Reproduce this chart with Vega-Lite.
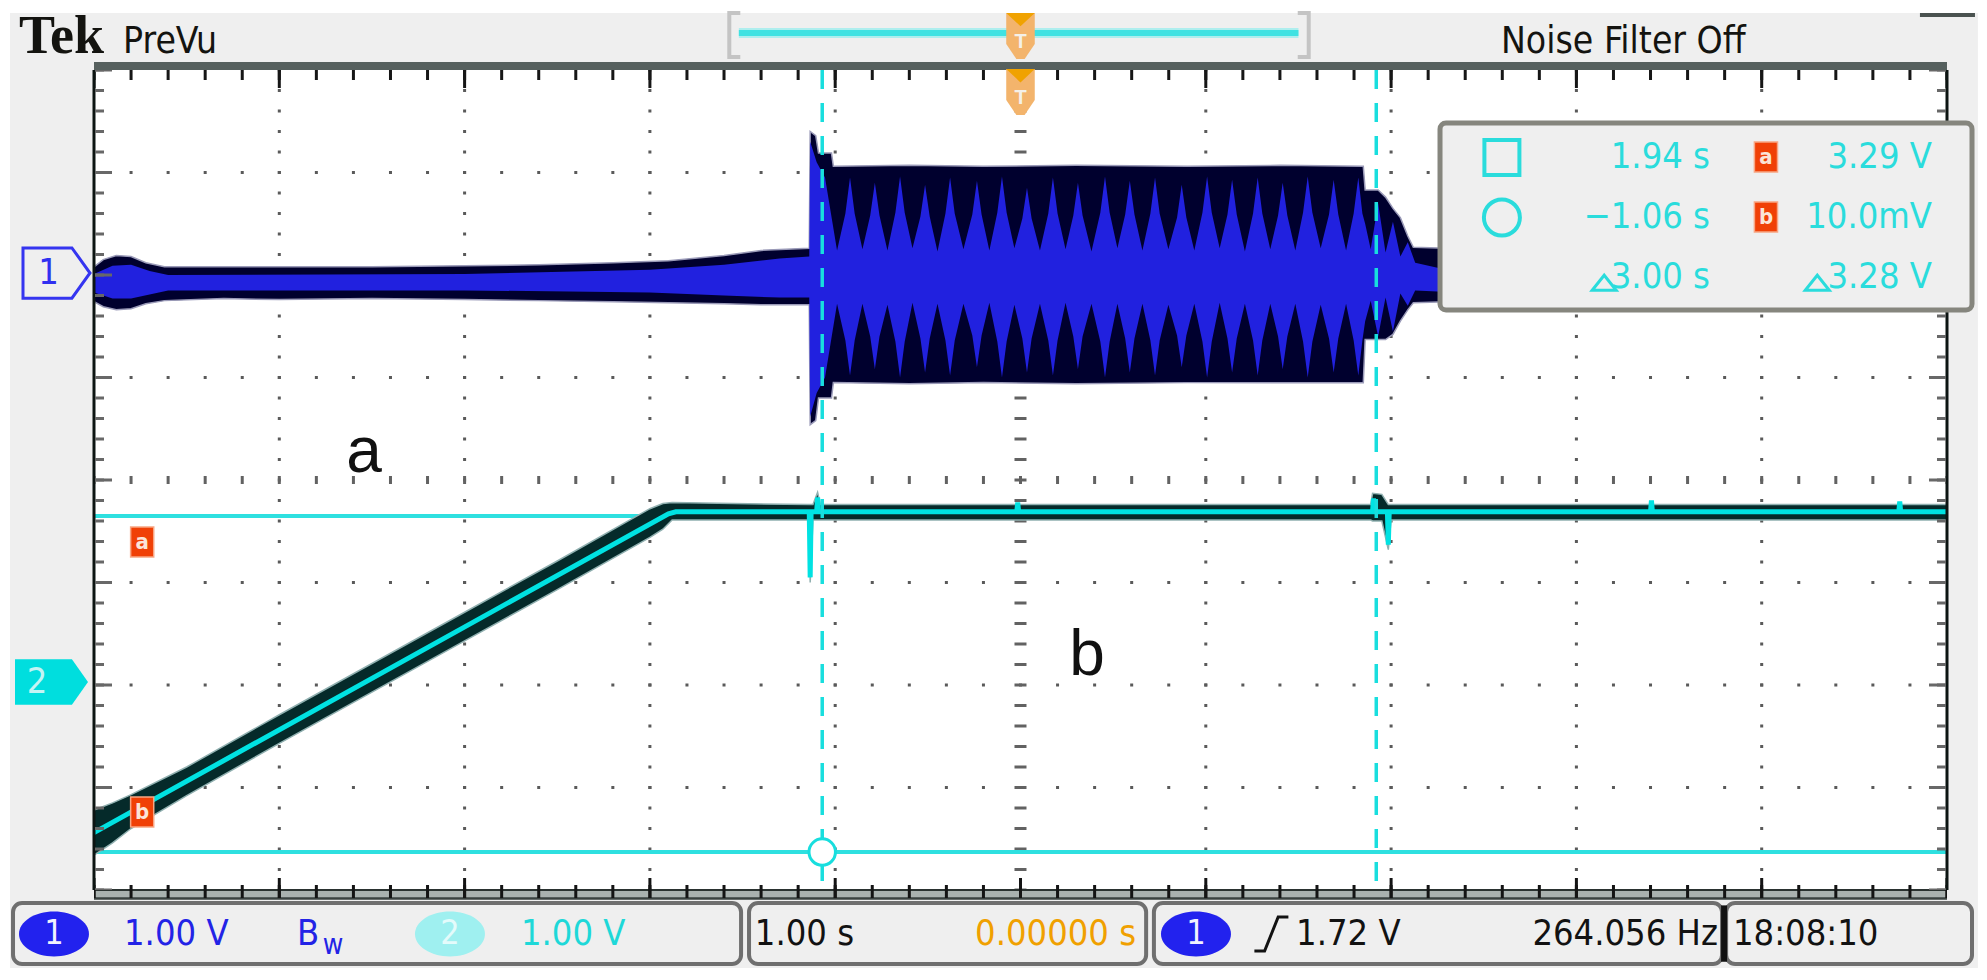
{
  "$schema": "https://vega.github.io/schema/vega-lite/v6.json",
  "width": 1987,
  "height": 980,
  "autosize": {"type": "fit", "contains": "padding"},
  "padding": 0,
  "background": "#ffffff",
  "config": {"view": {"stroke": null}},
  "encoding": {
    "x": {"field": "t", "type": "quantitative", "scale": {"domain": [-5.5073, 5.2159], "nice": false, "zero": false}, "axis": null},
    "y": {"field": "v", "type": "quantitative", "scale": {"domain": [-4.878, 4.6829], "nice": false, "zero": false}, "axis": null}
  },
  "layer": [
    {"data": {"values": [{"t": -5.453, "t2": 5.167, "v": 4.556, "v2": -4.761}]},
     "mark": {"type": "rect", "color": "#efefef"},
     "encoding": {"x2": {"field": "t2"}, "y2": {"field": "v2"}}},
    {"data": {"values": [{"t": -5, "t2": 5, "v": 4, "v2": -4}]},
     "mark": {"type": "rect", "color": "#ffffff"},
     "encoding": {"x2": {"field": "t2"}, "y2": {"field": "v2"}}},
    {"data": {"values": [{"t": -4, "v": 4, "v2": -4}, {"t": -3, "v": 4, "v2": -4}, {"t": -2, "v": 4, "v2": -4}, {"t": -1, "v": 4, "v2": -4}, {"t": 1, "v": 4, "v2": -4}, {"t": 2, "v": 4, "v2": -4}, {"t": 3, "v": 4, "v2": -4}, {"t": 4, "v": 4, "v2": -4}]},
     "mark": {"type": "rule", "color": "#5a5a5a", "strokeWidth": 3, "strokeDash": [3, 17.5], "strokeDashOffset": 1.5},
     "encoding": {"y2": {"field": "v2"}}},
    {"data": {"values": [{"t": -5, "t2": 5, "v": 3}, {"t": -5, "t2": 5, "v": 2}, {"t": -5, "t2": 5, "v": 1}, {"t": -5, "t2": 5, "v": -1}, {"t": -5, "t2": 5, "v": -2}, {"t": -5, "t2": 5, "v": -3}]},
     "mark": {"type": "rule", "color": "#5a5a5a", "strokeWidth": 3, "strokeDash": [3, 34.06], "strokeDashOffset": 1.5},
     "encoding": {"x2": {"field": "t2"}}},
    {"data": {"values": [{"t": 0, "v": 4, "v2": -4}]},
     "mark": {"type": "rule", "color": "#626262", "strokeWidth": 12, "strokeDash": [3, 17.5], "strokeDashOffset": 1.5},
     "encoding": {"y2": {"field": "v2"}}},
    {"data": {"values": [{"t": -5, "t2": 5, "v": 0}]},
     "mark": {"type": "rule", "color": "#626262", "strokeWidth": 8, "strokeDash": [3, 34.06], "strokeDashOffset": 1.5},
     "encoding": {"x2": {"field": "t2"}}},
    {"data": {"values": [{"t": -5, "t2": 5, "v": -0.35}, {"t": -5, "t2": 5, "v": -3.63}]},
     "mark": {"type": "rule", "color": "#2ee0e0", "strokeWidth": 4},
     "encoding": {"x2": {"field": "t2"}}},
    {"data": {"values": [
      {"t": -5.0, "v": -3.66, "v2": -3.22}, {"t": -4.9, "v": -3.54, "v2": -3.15}, {"t": -4.8, "v": -3.40, "v2": -3.07},
      {"t": -4.5, "v": -3.08, "v2": -2.80}, {"t": -4.0, "v": -2.57, "v2": -2.29}, {"t": -3.5, "v": -2.07, "v2": -1.79},
      {"t": -3.0, "v": -1.57, "v2": -1.29}, {"t": -2.5, "v": -1.07, "v2": -0.79}, {"t": -2.0, "v": -0.56, "v2": -0.28},
      {"t": -1.93, "v": -0.48, "v2": -0.23}, {"t": -1.88, "v": -0.39, "v2": -0.22}, {"t": -1.14, "v": -0.39, "v2": -0.24},
      {"t": -1.135, "v": -1.0, "v2": -0.24}, {"t": -1.12, "v": -0.39, "v2": -0.24}, {"t": -1.095, "v": -0.39, "v2": -0.12},
      {"t": -1.08, "v": -0.39, "v2": -0.24}, {"t": 1.89, "v": -0.39, "v2": -0.24}, {"t": 1.90, "v": -0.40, "v2": -0.13},
      {"t": 1.95, "v": -0.40, "v2": -0.14}, {"t": 1.985, "v": -0.68, "v2": -0.24}, {"t": 2.0, "v": -0.39, "v2": -0.24},
      {"t": 5.0, "v": -0.39, "v2": -0.24}]},
     "mark": {"type": "area", "color": "#052a2a", "stroke": "#90b0b0", "strokeWidth": 1.5},
     "encoding": {"y2": {"field": "v2"}}},
    {"data": {"values": [
      {"t": -5.0, "v": -3.44}, {"t": -1.90, "v": -0.33}, {"t": -1.86, "v": -0.31}, {"t": -1.14, "v": -0.31},
      {"t": -1.135, "v": -0.95}, {"t": -1.13, "v": -0.31}, {"t": -1.10, "v": -0.31}, {"t": -1.095, "v": -0.17},
      {"t": -1.09, "v": -0.31}, {"t": -0.02, "v": -0.31}, {"t": -0.015, "v": -0.22}, {"t": -0.01, "v": -0.31},
      {"t": 1.90, "v": -0.31}, {"t": 1.905, "v": -0.18}, {"t": 1.91, "v": -0.31}, {"t": 1.98, "v": -0.31},
      {"t": 1.985, "v": -0.63}, {"t": 1.99, "v": -0.31}, {"t": 3.40, "v": -0.31}, {"t": 3.405, "v": -0.20},
      {"t": 3.41, "v": -0.31}, {"t": 4.74, "v": -0.31}, {"t": 4.745, "v": -0.21}, {"t": 4.75, "v": -0.31},
      {"t": 5.0, "v": -0.31}]},
     "mark": {"type": "line", "color": "#00e2e2", "strokeWidth": 5}},
    {"data": {"values": [
      {"t": -5.0, "v": 1.74, "v2": 2.08}, {"t": -4.95, "v": 1.69, "v2": 2.15}, {"t": -4.88, "v": 1.66, "v2": 2.19},
      {"t": -4.80, "v": 1.67, "v2": 2.18}, {"t": -4.72, "v": 1.72, "v2": 2.12}, {"t": -4.62, "v": 1.75, "v2": 2.08},
      {"t": -4.3, "v": 1.77, "v2": 2.08}, {"t": -4.0, "v": 1.76, "v2": 2.08}, {"t": -3.5, "v": 1.77, "v2": 2.08},
      {"t": -3.0, "v": 1.76, "v2": 2.09}, {"t": -2.6, "v": 1.75, "v2": 2.10}, {"t": -2.2, "v": 1.74, "v2": 2.12},
      {"t": -1.9, "v": 1.73, "v2": 2.14}, {"t": -1.6, "v": 1.72, "v2": 2.19}, {"t": -1.4, "v": 1.71, "v2": 2.24},
      {"t": -1.14, "v": 1.71, "v2": 2.26}, {"t": -1.135, "v": 0.54, "v2": 3.40}, {"t": -1.105, "v": 0.58, "v2": 3.36},
      {"t": -1.09, "v": 0.80, "v2": 3.19}, {"t": -1.02, "v": 0.80, "v2": 3.19}, {"t": -1.01, "v": 0.95, "v2": 3.06},
      {"t": -0.6, "v": 0.94, "v2": 3.07}, {"t": -0.2, "v": 0.95, "v2": 3.06}, {"t": 0.3, "v": 0.94, "v2": 3.07},
      {"t": 0.9, "v": 0.95, "v2": 3.06}, {"t": 1.4, "v": 0.95, "v2": 3.07}, {"t": 1.85, "v": 0.95, "v2": 3.06},
      {"t": 1.86, "v": 1.37, "v2": 2.83}, {"t": 1.93, "v": 1.37, "v2": 2.83}, {"t": 1.97, "v": 1.37, "v2": 2.76},
      {"t": 2.01, "v": 1.42, "v2": 2.65}, {"t": 2.05, "v": 1.55, "v2": 2.56}, {"t": 2.09, "v": 1.66, "v2": 2.38},
      {"t": 2.12, "v": 1.73, "v2": 2.27}, {"t": 2.3, "v": 1.74, "v2": 2.26}, {"t": 2.8, "v": 1.76, "v2": 2.12},
      {"t": 5.0, "v": 1.76, "v2": 2.12}]},
     "mark": {"type": "area", "color": "#00002e", "stroke": "#9a9ab8", "strokeWidth": 1.5},
     "encoding": {"y2": {"field": "v2"}}},
    {"data": {"values": [
      {"t": -5.0, "v": 1.83, "v2": 2.01}, {"t": -4.9, "v": 1.77, "v2": 2.09}, {"t": -4.8, "v": 1.77, "v2": 2.10},
      {"t": -4.7, "v": 1.81, "v2": 2.04}, {"t": -4.6, "v": 1.85, "v2": 2.00}, {"t": -3.0, "v": 1.85, "v2": 2.01},
      {"t": -2.0, "v": 1.83, "v2": 2.05}, {"t": -1.6, "v": 1.80, "v2": 2.10}, {"t": -1.3, "v": 1.78, "v2": 2.16},
      {"t": -1.14, "v": 1.78, "v2": 2.18}, {"t": -1.135, "v": 0.62, "v2": 3.30}, {"t": -1.10, "v": 0.85, "v2": 3.10},
      {"t": -1.055, "v": 1.00, "v2": 2.95}, {"t": -0.99, "v": 1.72, "v2": 2.24},
      {"t": -0.945, "v": 1.36, "v2": 2.60}, {"t": -0.92, "v": 1.02, "v2": 2.95}, {"t": -0.895, "v": 1.36, "v2": 2.60},
      {"t": -0.853, "v": 1.72, "v2": 2.25},
      {"t": -0.811, "v": 1.40, "v2": 2.58}, {"t": -0.786, "v": 1.08, "v2": 2.90}, {"t": -0.761, "v": 1.40, "v2": 2.58},
      {"t": -0.718, "v": 1.71, "v2": 2.24},
      {"t": -0.675, "v": 1.35, "v2": 2.61}, {"t": -0.65, "v": 1.00, "v2": 2.96}, {"t": -0.625, "v": 1.35, "v2": 2.61},
      {"t": -0.583, "v": 1.73, "v2": 2.26},
      {"t": -0.54, "v": 1.38, "v2": 2.57}, {"t": -0.515, "v": 1.05, "v2": 2.88}, {"t": -0.49, "v": 1.38, "v2": 2.57},
      {"t": -0.448, "v": 1.72, "v2": 2.23},
      {"t": -0.405, "v": 1.36, "v2": 2.60}, {"t": -0.38, "v": 1.02, "v2": 2.95}, {"t": -0.355, "v": 1.36, "v2": 2.60},
      {"t": -0.308, "v": 1.72, "v2": 2.25},
      {"t": -0.26, "v": 1.41, "v2": 2.59}, {"t": -0.235, "v": 1.10, "v2": 2.92}, {"t": -0.21, "v": 1.41, "v2": 2.59},
      {"t": -0.168, "v": 1.73, "v2": 2.24},
      {"t": -0.125, "v": 1.35, "v2": 2.61}, {"t": -0.10, "v": 1.00, "v2": 2.96}, {"t": -0.075, "v": 1.35, "v2": 2.61},
      {"t": -0.033, "v": 1.71, "v2": 2.26},
      {"t": 0.01, "v": 1.38, "v2": 2.55}, {"t": 0.035, "v": 1.05, "v2": 2.85}, {"t": 0.06, "v": 1.38, "v2": 2.55},
      {"t": 0.105, "v": 1.72, "v2": 2.24},
      {"t": 0.15, "v": 1.36, "v2": 2.60}, {"t": 0.175, "v": 1.02, "v2": 2.95}, {"t": 0.20, "v": 1.36, "v2": 2.60},
      {"t": 0.243, "v": 1.73, "v2": 2.25},
      {"t": 0.285, "v": 1.40, "v2": 2.58}, {"t": 0.31, "v": 1.08, "v2": 2.90}, {"t": 0.335, "v": 1.40, "v2": 2.58},
      {"t": 0.383, "v": 1.72, "v2": 2.23},
      {"t": 0.431, "v": 1.35, "v2": 2.61}, {"t": 0.456, "v": 1.00, "v2": 2.96}, {"t": 0.481, "v": 1.35, "v2": 2.61},
      {"t": 0.523, "v": 1.72, "v2": 2.26},
      {"t": 0.565, "v": 1.38, "v2": 2.59}, {"t": 0.59, "v": 1.05, "v2": 2.92}, {"t": 0.615, "v": 1.38, "v2": 2.59},
      {"t": 0.658, "v": 1.72, "v2": 2.24},
      {"t": 0.701, "v": 1.36, "v2": 2.60}, {"t": 0.726, "v": 1.02, "v2": 2.95}, {"t": 0.751, "v": 1.36, "v2": 2.60},
      {"t": 0.798, "v": 1.71, "v2": 2.25},
      {"t": 0.845, "v": 1.41, "v2": 2.56}, {"t": 0.87, "v": 1.10, "v2": 2.88}, {"t": 0.895, "v": 1.41, "v2": 2.56},
      {"t": 0.938, "v": 1.72, "v2": 2.24},
      {"t": 0.982, "v": 1.35, "v2": 2.61}, {"t": 1.007, "v": 1.00, "v2": 2.96}, {"t": 1.032, "v": 1.35, "v2": 2.61},
      {"t": 1.075, "v": 1.73, "v2": 2.26},
      {"t": 1.117, "v": 1.38, "v2": 2.59}, {"t": 1.142, "v": 1.05, "v2": 2.93}, {"t": 1.167, "v": 1.38, "v2": 2.59},
      {"t": 1.211, "v": 1.72, "v2": 2.23},
      {"t": 1.255, "v": 1.36, "v2": 2.60}, {"t": 1.28, "v": 1.02, "v2": 2.95}, {"t": 1.305, "v": 1.36, "v2": 2.60},
      {"t": 1.348, "v": 1.72, "v2": 2.25},
      {"t": 1.39, "v": 1.40, "v2": 2.58}, {"t": 1.415, "v": 1.08, "v2": 2.90}, {"t": 1.44, "v": 1.40, "v2": 2.58},
      {"t": 1.483, "v": 1.72, "v2": 2.24},
      {"t": 1.525, "v": 1.35, "v2": 2.61}, {"t": 1.55, "v": 1.00, "v2": 2.96}, {"t": 1.575, "v": 1.35, "v2": 2.61},
      {"t": 1.62, "v": 1.71, "v2": 2.26},
      {"t": 1.665, "v": 1.38, "v2": 2.59}, {"t": 1.69, "v": 1.05, "v2": 2.93}, {"t": 1.715, "v": 1.38, "v2": 2.59},
      {"t": 1.757, "v": 1.72, "v2": 2.24},
      {"t": 1.798, "v": 1.36, "v2": 2.60}, {"t": 1.823, "v": 1.02, "v2": 2.95}, {"t": 1.845, "v": 1.36, "v2": 2.60},
      {"t": 1.86, "v": 1.55, "v2": 2.50}, {"t": 1.89, "v": 1.75, "v2": 2.25}, {"t": 1.93, "v": 1.40, "v2": 2.70},
      {"t": 1.97, "v": 1.78, "v2": 2.22}, {"t": 2.01, "v": 1.45, "v2": 2.52}, {"t": 2.05, "v": 1.82, "v2": 2.18},
      {"t": 2.09, "v": 1.70, "v2": 2.32}, {"t": 2.13, "v": 1.85, "v2": 2.12}, {"t": 2.25, "v": 1.84, "v2": 2.07},
      {"t": 5.0, "v": 1.85, "v2": 2.02}]},
     "mark": {"type": "area", "color": "#2121df"},
     "encoding": {"y2": {"field": "v2"}}},
    {"data": {"values": [{"t": -1.07, "v": 4, "v2": -4}, {"t": 1.92, "v": 4, "v2": -4}]},
     "mark": {"type": "rule", "color": "#18dede", "strokeWidth": 3.5, "strokeDash": [19, 14]},
     "encoding": {"y2": {"field": "v2"}}},
    {"data": {"values": [{"t": -1.07, "v": -3.63}]},
     "mark": {"type": "point", "shape": "circle", "size": 700, "filled": true, "fill": "#ffffff", "stroke": "#18dede", "strokeWidth": 3, "opacity": 1}},
    {"data": {"values": [{"t": -5, "t2": 5, "v": 4}]},
     "mark": {"type": "rule", "color": "#56605e", "strokeWidth": 8, "yOffset": -4},
     "encoding": {"x2": {"field": "t2"}}},
    {"data": {"values": [{"t": -5, "t2": 5, "v": 4}]},
     "mark": {"type": "rule", "color": "#161616", "strokeWidth": 10, "yOffset": 5, "strokeDash": [3, 34.06], "strokeDashOffset": 1.5},
     "encoding": {"x2": {"field": "t2"}}},
    {"data": {"values": [{"t": -5, "t2": 5, "v": 4}]},
     "mark": {"type": "rule", "color": "#161616", "strokeWidth": 18, "yOffset": 9, "strokeDash": [3, 182.3], "strokeDashOffset": 1.5},
     "encoding": {"x2": {"field": "t2"}}},
    {"data": {"values": [{"t": -5, "t2": 5, "v": -4}]},
     "mark": {"type": "rule", "color": "#a9b1af", "strokeWidth": 8, "yOffset": 4},
     "encoding": {"x2": {"field": "t2"}}},
    {"data": {"values": [{"t": -5, "t2": 5, "v": -4}]},
     "mark": {"type": "rule", "color": "#3a4240", "strokeWidth": 2.5, "yOffset": 8.5},
     "encoding": {"x2": {"field": "t2"}}},
    {"data": {"values": [{"t": -5, "t2": 5, "v": -4}]},
     "mark": {"type": "rule", "color": "#2a3230", "strokeWidth": 2},
     "encoding": {"x2": {"field": "t2"}}},
    {"data": {"values": [{"t": -5, "t2": 5, "v": -4}]},
     "mark": {"type": "rule", "color": "#141414", "strokeWidth": 13, "yOffset": 1.5, "strokeDash": [3, 34.06], "strokeDashOffset": 1.5},
     "encoding": {"x2": {"field": "t2"}}},
    {"data": {"values": [{"t": -5, "t2": 5, "v": -4}]},
     "mark": {"type": "rule", "color": "#141414", "strokeWidth": 20, "yOffset": -2, "strokeDash": [3, 182.3], "strokeDashOffset": 1.5},
     "encoding": {"x2": {"field": "t2"}}},
    {"data": {"values": [{"t": -5, "v": 4, "v2": -4}, {"t": 5, "v": 4, "v2": -4}]},
     "mark": {"type": "rule", "color": "#0c1412", "strokeWidth": 3},
     "encoding": {"y2": {"field": "v2"}}},
    {"data": {"values": [{"t": -5, "v": 4, "v2": -4}]},
     "mark": {"type": "rule", "color": "#686868", "strokeWidth": 9, "xOffset": 5.5, "strokeDash": [3, 17.5], "strokeDashOffset": 1.5},
     "encoding": {"y2": {"field": "v2"}}},
    {"data": {"values": [{"t": -5, "v": 4, "v2": -4}]},
     "mark": {"type": "rule", "color": "#686868", "strokeWidth": 17, "xOffset": 9.5, "strokeDash": [3, 99.5], "strokeDashOffset": 1.5},
     "encoding": {"y2": {"field": "v2"}}},
    {"data": {"values": [{"t": 5, "v": 4, "v2": -4}]},
     "mark": {"type": "rule", "color": "#686868", "strokeWidth": 9, "xOffset": -5.5, "strokeDash": [3, 17.5], "strokeDashOffset": 1.5},
     "encoding": {"y2": {"field": "v2"}}},
    {"data": {"values": [{"t": 5, "v": 4, "v2": -4}]},
     "mark": {"type": "rule", "color": "#686868", "strokeWidth": 17, "xOffset": -9.5, "strokeDash": [3, 99.5], "strokeDashOffset": 1.5},
     "encoding": {"y2": {"field": "v2"}}},
    {"data": {"values": [{"t": -3.543, "v": 0.078, "s": "a"}, {"t": 0.359, "v": -1.902, "s": "b"}]},
     "mark": {"type": "text", "font": "Liberation Sans, Arial, sans-serif", "fontSize": 64, "color": "#111111", "align": "center", "baseline": "alphabetic"},
     "encoding": {"text": {"field": "s"}}},
    {"data": {"values": [{"t": 2.264, "t2": 5.135, "v": 3.483, "v2": 1.659}]},
     "mark": {"type": "rect", "fill": "#efefef", "stroke": "#86867e", "strokeWidth": 5, "cornerRadius": 6},
     "encoding": {"x2": {"field": "t2"}, "y2": {"field": "v2"}}},
    {"data": {"values": [{"t": 2.598, "v": 3.146}]},
     "mark": {"type": "point", "shape": "square", "size": 1225, "filled": false, "stroke": "#2adcdc", "strokeWidth": 4, "opacity": 1}},
    {"data": {"values": [{"t": 2.598, "v": 2.561}]},
     "mark": {"type": "point", "shape": "circle", "size": 1296, "filled": false, "stroke": "#2adcdc", "strokeWidth": 4, "opacity": 1}},
    {"data": {"values": [{"t": 3.15, "v": 1.922}, {"t": 4.30, "v": 1.922}]},
     "mark": {"type": "point", "shape": "M-1,0.6L0,-0.65L1,0.6Z", "size": 576, "filled": false, "stroke": "#2adcdc", "strokeWidth": 3, "opacity": 1}},
    {"data": {"values": [{"t": 3.721, "v": 3.151, "s": "1.94 s"}, {"t": 3.721, "v": 2.566, "s": "−1.06 s"}, {"t": 3.721, "v": 1.98, "s": "3.00 s"}, {"t": 4.919, "v": 3.151, "s": "3.29 V"}, {"t": 4.919, "v": 2.566, "s": "10.0mV"}, {"t": 4.919, "v": 1.98, "s": "3.28 V"}]},
     "mark": {"type": "text", "font": "Liberation Sans Narrow, DejaVu Sans Condensed, Arial Narrow, sans-serif", "fontSize": 36, "color": "#2adcdc", "align": "right", "baseline": "middle"},
     "encoding": {"text": {"field": "s"}}},
    {"data": {"values": [{"t": -4.74, "v": -0.605, "s": "a"}, {"t": -4.74, "v": -3.239, "s": "b"}, {"t": 4.023, "v": 3.151, "s": "a"}, {"t": 4.023, "v": 2.566, "s": "b"}]},
     "mark": {"type": "point", "shape": "M-0.77,-1L0.77,-1L0.77,1L-0.77,1Z", "size": 900, "filled": true, "fill": "#f04006", "stroke": "#f8a684", "strokeWidth": 1.5, "opacity": 1}},
    {"data": {"values": [{"t": -4.74, "v": -0.605, "s": "a"}, {"t": -4.74, "v": -3.239, "s": "b"}, {"t": 4.023, "v": 3.151, "s": "a"}, {"t": 4.023, "v": 2.566, "s": "b"}]},
     "mark": {"type": "text", "font": "Liberation Sans Narrow, DejaVu Sans Condensed, sans-serif", "fontSize": 22, "fontWeight": "bold", "color": "#fbe4d8", "align": "center", "baseline": "middle"},
     "encoding": {"text": {"field": "s"}}},
    {"data": {"values": [{"t": -5.2024, "v": 2.0195}]},
     "mark": {"type": "point", "shape": "M-1,-0.75L0.46,-0.75L1,0L0.46,0.75L-1,0.75Z", "size": 4489, "filled": true, "fill": "#efefef", "stroke": "#3535f0", "strokeWidth": 3, "opacity": 1}},
    {"data": {"values": [{"t": -5.245, "v": 2.0195, "s": "1"}]},
     "mark": {"type": "text", "font": "Liberation Sans Narrow, DejaVu Sans Condensed, sans-serif", "fontSize": 36, "color": "#3030f0", "align": "center", "baseline": "middle"},
     "encoding": {"text": {"field": "s"}}},
    {"data": {"values": [{"t": -5.2294, "v": -1.9707}]},
     "mark": {"type": "point", "shape": "M-1,-0.62L0.56,-0.62L1,0L0.56,0.62L-1,0.62Z", "size": 5329, "filled": true, "fill": "#00dede", "opacity": 1}},
    {"data": {"values": [{"t": -5.308, "v": -1.9707, "s": "2"}]},
     "mark": {"type": "text", "font": "Liberation Sans Narrow, DejaVu Sans Condensed, sans-serif", "fontSize": 36, "color": "#c4f4f4", "align": "center", "baseline": "middle"},
     "encoding": {"text": {"field": "s"}}},
    {"data": {"values": [{"t": -5.405, "v": 4.166, "s": "Tek"}]},
     "mark": {"type": "text", "font": "Liberation Serif, serif", "fontWeight": "bold", "fontSize": 54, "color": "#141410", "align": "left", "baseline": "alphabetic"},
     "encoding": {"text": {"field": "s"}}},
    {"data": {"values": [{"t": -4.843, "v": 4.166, "s": "PreVu"}, {"t": 2.593, "v": 4.166, "s": "Noise Filter Off"}]},
     "mark": {"type": "text", "font": "Liberation Sans Narrow, DejaVu Sans Condensed, sans-serif", "fontSize": 37, "color": "#141410", "align": "left", "baseline": "alphabetic"},
     "encoding": {"text": {"field": "s"}}},
    {"data": {"values": [{"t": -1.524, "v": 4.341}]},
     "mark": {"type": "point", "shape": "M0.1,-1L-0.4,-1L-0.4,1L0.1,1", "size": 1936, "filled": false, "stroke": "#c4c4c4", "strokeWidth": 4, "opacity": 1}},
    {"data": {"values": [{"t": 1.508, "v": 4.341}]},
     "mark": {"type": "point", "shape": "M-0.1,-1L0.4,-1L0.4,1L-0.1,1", "size": 1936, "filled": false, "stroke": "#c4c4c4", "strokeWidth": 4, "opacity": 1}},
    {"data": {"values": [{"t": -1.52, "t2": 1.50, "v": 4.36}]},
     "mark": {"type": "rule", "color": "#aeeeee", "strokeWidth": 10},
     "encoding": {"x2": {"field": "t2"}}},
    {"data": {"values": [{"t": -1.52, "t2": 1.50, "v": 4.36}]},
     "mark": {"type": "rule", "color": "#40e2e2", "strokeWidth": 6},
     "encoding": {"x2": {"field": "t2"}}},
    {"data": {"values": [{"t": 4.854, "t2": 5.151, "v": 4.537}]},
     "mark": {"type": "rule", "color": "#4a5250", "strokeWidth": 4},
     "encoding": {"x2": {"field": "t2"}}},
    {"data": {"values": [{"t": 0, "v": 4.332}, {"t": 0, "v": 3.785}]},
     "mark": {"type": "point", "shape": "M-0.62,-1L0.62,-1L0.62,0.35L0.18,1L-0.18,1L-0.62,0.35Z", "size": 2116, "filled": true, "fill": "#f3b46c", "opacity": 1}},
    {"data": {"values": [{"t": 0, "v": 4.332}, {"t": 0, "v": 3.785}]},
     "mark": {"type": "point", "shape": "M-0.62,-1L0.62,-1L0,-0.42Z", "size": 2116, "filled": true, "fill": "#f0a200", "opacity": 1}},
    {"data": {"values": [{"t": 0, "v": 4.332, "s": "T"}, {"t": 0, "v": 3.785, "s": "T"}]},
     "mark": {"type": "text", "font": "Liberation Sans, sans-serif", "fontWeight": "bold", "fontSize": 20, "color": "#f4f0e8", "align": "center", "baseline": "middle", "dy": 6},
     "encoding": {"text": {"field": "s"}}},
    {"data": {"values": [{"t": -5.437, "t2": -1.508, "v": -4.127, "v2": -4.722}, {"t": -1.465, "t2": 0.678, "v": -4.127, "v2": -4.722}, {"t": 0.72, "t2": 3.786, "v": -4.127, "v2": -4.722}, {"t": 3.808, "t2": 5.135, "v": -4.127, "v2": -4.722}]},
     "mark": {"type": "rect", "fill": "#efefef", "stroke": "#6f6f6f", "strokeWidth": 4, "cornerRadius": 9},
     "encoding": {"x2": {"field": "t2"}, "y2": {"field": "v2"}}},
    {"data": {"values": [{"t": 3.797, "v": -4.15, "v2": -4.70}]},
     "mark": {"type": "rule", "color": "#111111", "strokeWidth": 6},
     "encoding": {"y2": {"field": "v2"}}},
    {"data": {"values": [{"t": -5.216, "v": -4.429}, {"t": 0.947, "v": -4.429}]},
     "mark": {"type": "point", "shape": "M-1,0A1,0.64,0,1,1,1,0A1,0.64,0,1,1,-1,0Z", "size": 4900, "filled": true, "fill": "#2222ee", "opacity": 1}},
    {"data": {"values": [{"t": -3.079, "v": -4.429}]},
     "mark": {"type": "point", "shape": "M-1,0A1,0.64,0,1,1,1,0A1,0.64,0,1,1,-1,0Z", "size": 4900, "filled": true, "fill": "#9ff0f0", "opacity": 1}},
    {"data": {"values": [{"t": -5.216, "v": -4.429, "s": "1"}, {"t": 0.947, "v": -4.429, "s": "1"}]},
     "mark": {"type": "text", "font": "Liberation Sans Narrow, DejaVu Sans Condensed, sans-serif", "fontSize": 34, "color": "#f2f2ff", "align": "center", "baseline": "middle"},
     "encoding": {"text": {"field": "s"}}},
    {"data": {"values": [{"t": -3.079, "v": -4.429, "s": "2"}]},
     "mark": {"type": "text", "font": "Liberation Sans Narrow, DejaVu Sans Condensed, sans-serif", "fontSize": 34, "color": "#e4fbfb", "align": "center", "baseline": "middle"},
     "encoding": {"text": {"field": "s"}}},
    {"data": {"values": [{"t": -4.838, "v": -4.429, "s": "1.00 V"}, {"t": -3.904, "v": -4.429, "s": "B"}]},
     "mark": {"type": "text", "font": "Liberation Sans Narrow, DejaVu Sans Condensed, sans-serif", "fontSize": 36, "color": "#2323e6", "align": "left", "baseline": "middle"},
     "encoding": {"text": {"field": "s"}}},
    {"data": {"values": [{"t": -3.765, "v": -4.546, "s": "w"}]},
     "mark": {"type": "text", "font": "Liberation Sans Narrow, DejaVu Sans Condensed, sans-serif", "fontSize": 28, "color": "#2323e6", "align": "left", "baseline": "middle"},
     "encoding": {"text": {"field": "s"}}},
    {"data": {"values": [{"t": -2.696, "v": -4.429, "s": "1.00 V"}]},
     "mark": {"type": "text", "font": "Liberation Sans Narrow, DejaVu Sans Condensed, sans-serif", "fontSize": 36, "color": "#1ed8d8", "align": "left", "baseline": "middle"},
     "encoding": {"text": {"field": "s"}}},
    {"data": {"values": [{"t": -1.434, "v": -4.429, "s": "1.00 s"}, {"t": 1.487, "v": -4.429, "s": "1.72 V"}, {"t": 3.845, "v": -4.429, "s": "18:08:10"}]},
     "mark": {"type": "text", "font": "Liberation Sans Narrow, DejaVu Sans Condensed, sans-serif", "fontSize": 36, "color": "#121212", "align": "left", "baseline": "middle"},
     "encoding": {"text": {"field": "s"}}},
    {"data": {"values": [{"t": 3.764, "v": -4.429, "s": "264.056 Hz"}]},
     "mark": {"type": "text", "font": "Liberation Sans Narrow, DejaVu Sans Condensed, sans-serif", "fontSize": 36, "color": "#121212", "align": "right", "baseline": "middle"},
     "encoding": {"text": {"field": "s"}}},
    {"data": {"values": [{"t": 0.624, "v": -4.429, "s": "0.00000 s"}]},
     "mark": {"type": "text", "font": "Liberation Sans Narrow, DejaVu Sans Condensed, sans-serif", "fontSize": 36, "color": "#f0a000", "align": "right", "baseline": "middle"},
     "encoding": {"text": {"field": "s"}}},
    {"data": {"values": [{"t": 1.354, "v": -4.429}]},
     "mark": {"type": "point", "shape": "M-1,1L-0.4,1L0.4,-1L1,-1", "size": 1156, "filled": false, "stroke": "#121212", "strokeWidth": 3, "opacity": 1}}
  ]
}
